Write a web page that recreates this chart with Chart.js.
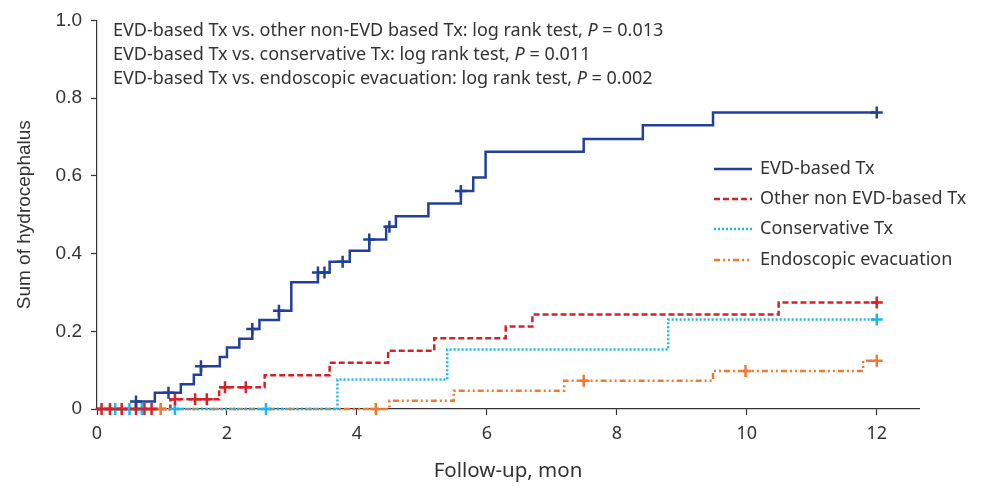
<!DOCTYPE html>
<html>
<head>
<meta charset="utf-8">
<script src="https://cdn.jsdelivr.net/npm/chart.js@4"></script>
<style>
  html, body { margin: 0; padding: 0; background: #fff; }
  #wrap { width: 982px; height: 486px; }
</style>
</head>
<body>
<div id="wrap"><canvas id="c" width="982" height="486"></canvas></div>
<script>
// step curves: time of each event (mon) and cumulative value after it
const evdTimes = [0, 0.6, 0.89, 1.29, 1.49, 1.6, 1.89, 2.0, 2.19, 2.39, 2.5, 2.8, 2.99, 3.4, 3.58, 3.89, 4.19, 4.45, 4.6, 5.1, 5.6, 5.79, 5.98, 7.49, 8.4, 9.48, 12];
const evdValues = [0, 0.019, 0.042, 0.064, 0.088, 0.11, 0.134, 0.158, 0.181, 0.206, 0.229, 0.253, 0.326, 0.351, 0.379, 0.407, 0.436, 0.469, 0.496, 0.529, 0.561, 0.596, 0.662, 0.695, 0.73, 0.763, 0.763];
const otherTimes = [0, 1.13, 1.88, 2.58, 3.58, 4.48, 5.19, 6.29, 6.7, 10.49, 12];
const otherValues = [0, 0.025, 0.056, 0.087, 0.119, 0.15, 0.182, 0.212, 0.243, 0.274, 0.274];
const consTimes = [0, 3.7, 5.39, 8.79, 12];
const consValues = [0, 0.076, 0.153, 0.23, 0.23];
const endoTimes = [0, 4.5, 5.49, 7.19, 9.48, 11.79, 12];
const endoValues = [0, 0.021, 0.047, 0.073, 0.098, 0.124, 0.124];

// censored marks (+)
const evdCensorTimes = [0.6, 1.1, 1.6, 2.39, 2.8, 3.4, 3.5, 3.78, 4.19, 4.5, 5.6, 12];
const evdCensorValues = [0.019, 0.042, 0.11, 0.206, 0.253, 0.351, 0.351, 0.379, 0.436, 0.469, 0.561, 0.763];
const otherCensorTimes = [0.07, 0.2, 0.38, 0.6, 0.73, 0.84, 1.2, 1.51, 1.69, 1.97, 2.29, 12];
const otherCensorValues = [0, 0, 0, 0, 0, 0, 0.025, 0.025, 0.025, 0.056, 0.056, 0.274];
const consCensorTimes = [0.28, 0.5, 0.69, 1.2, 2.6, 12];
const consCensorValues = [0, 0, 0, 0, 0, 0.23];
const endoCensorTimes = [0.98, 4.29, 7.49, 9.98, 12];
const endoCensorValues = [0, 0, 0.073, 0.098, 0.124];

const seriesNames = ['EVD-based Tx', 'Other non EVD-based Tx', 'Conservative Tx', 'Endoscopic evacuation'];
const xTickValues = [0, 2, 4, 6, 8, 10, 12];
const yTickValues = [0, 0.2, 0.4, 0.6, 0.8, 1.0];
const yTickLabels = ['0', '0.2', '0.4', '0.6', '0.8', '1.0'];
const testLines = [
    ['EVD-based Tx vs. other non-EVD based Tx: log rank test, ', '0.013'],
    ['EVD-based Tx vs. conservative Tx: log rank test, ', '0.011'],
    ['EVD-based Tx vs. endoscopic evacuation: log rank test, ', '0.002'],
];

const colors = ['#22409a', '#d2232a', '#1fb6ea', '#f07a30'];
const dashes = [[], [6, 3], [2, 2], [6, 3, 2, 3, 2, 3]];
const FONT = '"Noto Sans", sans-serif';
const ARIAL = '"Liberation Sans", Arial, sans-serif';
const TEXT = '#333333';

const toXY = (xs, ys) => xs.map((x, i) => ({ x: x, y: ys[i] }));

const curves = [
    toXY(evdTimes, evdValues),
    toXY(otherTimes, otherValues),
    toXY(consTimes, consValues),
    toXY(endoTimes, endoValues),
];
const censors = [
    toXY(evdCensorTimes, evdCensorValues),
    toXY(otherCensorTimes, otherCensorValues),
    toXY(consCensorTimes, consCensorValues),
    toXY(endoCensorTimes, endoCensorValues),
];

const datasets = [];
curves.forEach((data, i) => {
    datasets.push({
        label: seriesNames[i],
        data: data,
        borderColor: colors[i],
        borderWidth: 2.5,
        borderDash: dashes[i],
        stepped: 'before',
        pointRadius: 0,
        fill: false,
        clip: false,
        order: i,
    });
});
censors.forEach((data, i) => {
    datasets.push({
        label: seriesNames[i] + ' censored',
        data: data,
        showLine: false,
        pointStyle: 'cross',
        pointRadius: 6,
        pointBorderWidth: 2.5,
        pointBorderColor: colors[i],
        pointBackgroundColor: colors[i],
        clip: false,
        order: i - 10,
    });
});

// p-value text and legend drawn inside plot area
const overlayPlugin = {
    id: 'overlay',
    afterDraw(chart) {
        const ctx = chart.ctx;
        ctx.save();
        ctx.fillStyle = TEXT;
        ctx.textBaseline = 'middle';
        ctx.textAlign = 'left';
        const lineY = [31, 55, 79];
        testLines.forEach((parts, i) => {
            let x = 113;
            ctx.font = '18px ' + FONT;
            ctx.fillText(parts[0], x, lineY[i]);
            x += ctx.measureText(parts[0]).width;
            ctx.font = 'italic 18px ' + FONT;
            ctx.fillText('P', x, lineY[i]);
            x += ctx.measureText('P').width;
            ctx.font = '18px ' + FONT;
            ctx.fillText(' = ' + parts[1], x, lineY[i]);
        });

        const legY = [169, 199, 229, 260];
        seriesNames.forEach((name, i) => {
            ctx.strokeStyle = colors[i];
            ctx.lineWidth = 2.5;
            ctx.setLineDash(dashes[i]);
            ctx.beginPath();
            ctx.moveTo(714, legY[i]);
            ctx.lineTo(752, legY[i]);
            ctx.stroke();
            ctx.setLineDash([]);
            ctx.font = '18px ' + FONT;
            ctx.fillStyle = TEXT;
            ctx.fillText(name, 760, legY[i]);
        });
        ctx.restore();
    }
};

new Chart(document.getElementById('c'), {
    type: 'line',
    data: { datasets: datasets },
    plugins: [overlayPlugin],
    options: {
        responsive: false,
        animation: false,
        layout: { padding: { top: 20, right: 63, left: 0, bottom: 0 } },
        plugins: {
            legend: { display: false },
            tooltip: { enabled: false },
        },
        scales: {
            x: {
                type: 'linear',
                min: 0,
                max: 12.65,
                afterBuildTicks: (scale) => { scale.ticks = xTickValues.map((v) => ({ value: v })); },
                afterFit: (scale) => { scale.height = 77; },
                grid: { drawOnChartArea: false, drawTicks: true, tickLength: 6, tickColor: TEXT, tickWidth: 1.2 },
                border: { color: TEXT, width: 1.2 },
                ticks: { color: TEXT, font: { family: FONT, size: 18 }, padding: 8, maxRotation: 0 },
                title: { display: true, text: 'Follow-up, mon', color: TEXT, font: { family: FONT, size: 20.5 }, padding: { top: 4, bottom: 3 } },
            },
            y: {
                type: 'linear',
                min: 0,
                max: 1.0,
                afterBuildTicks: (scale) => { scale.ticks = yTickValues.map((v) => ({ value: v })); },
                afterFit: (scale) => { scale.width = 97; },
                grid: { drawOnChartArea: false, drawTicks: true, tickLength: 6, tickColor: TEXT, tickWidth: 1.2 },
                border: { color: TEXT, width: 1.2 },
                ticks: {
                    color: TEXT,
                    font: { family: ARIAL, size: 19 },
                    padding: 9,
                    callback: function(value, index) {
                        return yTickLabels[index];
                    }
                },
                title: { display: true, text: 'Sum of hydrocephalus', color: TEXT, font: { family: ARIAL, size: 19 }, padding: { top: 13, bottom: 4 } },
            },
        },
    },
});
</script>
</body>
</html>
